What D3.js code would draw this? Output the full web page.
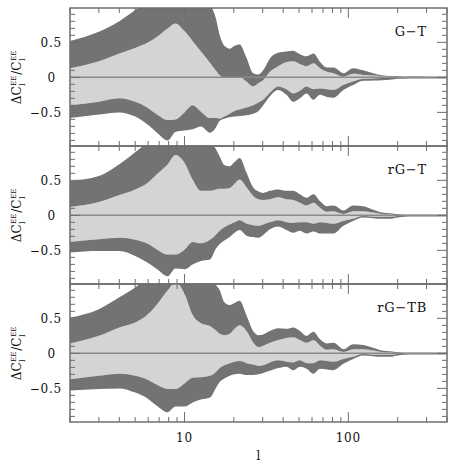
<!DOCTYPE html>
<html>
<head>
<meta charset="utf-8">
<script src="https://cdn.jsdelivr.net/npm/d3@7"></script>
<style>
  html, body { margin: 0; padding: 0; background: #fff; }
  svg { display: block; }
  text { font-family: "DejaVu Serif", "Liberation Serif", serif; fill: #111; }
</style>
</head>
<body>
<svg id="chart" width="457" height="470"></svg>
<script>
// ---- data ----
const ell = [2,3,4,5,6,6.8,7.9,8.8,10,11.2,12.6,14.3,15.5,16.4,17.5,18.9,20.2,21.7,23.9,26.2,28.3,30.2,33.2,37.3,41.9,46.1,50.6,55.6,61.2,67.2,73.9,81.2,93.3,107,123,142,160,180,200,220,250,300,350,400];

const panelLabels = ["G\u2212T", "rG\u2212T", "rG\u2212TB"];

// G-T
const gtUpperOuter = [0.52,0.65,0.80,0.96,1.10, 1.20,1.25,1.25,1.25,1.25, 1.20,1.05,0.85,0.60,0.45, 0.41,0.45,0.47,0.28,0.06, 0.04,0.10,0.27,0.35,0.37, 0.38,0.33,0.30,0.34,0.22, 0.14,0.14,0.06,0.13,0.10, 0.06,0.03,0.02,0.015,0.01, 0.012,0.01,0.01,0.01];
const gtUpperInner = [0.13,0.23,0.34,0.42,0.50, 0.58,0.70,0.77,0.66,0.52, 0.37,0.21,0.10,0.03,0.0, 0.0,0.0,0.0,-0.06,-0.13, -0.08,-0.04,0.08,0.16,0.22, 0.23,0.19,0.16,0.20,0.13, 0.08,0.06,0.01,0.05,0.035, 0.025,0.015,0.01,0.0,-0.003, -0.003,-0.003,-0.003,-0.003];
const gtLowerInner = [-0.40,-0.35,-0.30,-0.35,-0.44, -0.53,-0.61,-0.60,-0.50,-0.40, -0.49,-0.58,-0.58,-0.59,-0.56, -0.52,-0.48,-0.46,-0.43,-0.40, -0.36,-0.32,-0.22,-0.13,-0.17, -0.23,-0.19,-0.13,-0.17,-0.16, -0.17,-0.18,-0.11,-0.06,-0.02, -0.015,-0.01,-0.01,-0.005,-0.006, -0.006,-0.006,-0.006,-0.006];
const gtLowerOuter = [-0.58,-0.53,-0.50,-0.56,-0.68, -0.79,-0.90,-0.78,-0.76,-0.74, -0.70,-0.79,-0.72,-0.62,-0.59, -0.57,-0.56,-0.55,-0.54,-0.52, -0.48,-0.40,-0.27,-0.18,-0.25, -0.35,-0.30,-0.23,-0.32,-0.25, -0.28,-0.29,-0.18,-0.11,-0.05, -0.045,-0.04,-0.035,-0.02,-0.02, -0.018,-0.015,-0.015,-0.015];

// rG-T
const rgtUpperOuter = [0.49,0.56,0.73,0.90,1.05, 1.15,1.20,1.20,1.20,1.10, 0.98,1.05,0.95,0.84,0.72, 0.70,0.76,0.82,0.61,0.40, 0.34,0.32,0.35,0.37,0.35, 0.35,0.30,0.25,0.30,0.20, 0.13,0.14,0.07,0.14,0.13, 0.08,0.04,0.03,0.015,0.01, 0.01,0.01,0.01,0.01];
const rgtUpperInner = [0.12,0.19,0.29,0.37,0.47, 0.59,0.73,0.86,0.75,0.51, 0.35,0.35,0.37,0.38,0.38, 0.39,0.45,0.51,0.40,0.28, 0.23,0.22,0.23,0.26,0.23, 0.22,0.18,0.14,0.18,0.11, 0.05,0.06,0.02,0.06,0.06, 0.04,0.02,0.015,0.0,-0.003, -0.003,-0.003,-0.003,-0.003];
const rgtLowerInner = [-0.38,-0.34,-0.32,-0.35,-0.41, -0.49,-0.56,-0.56,-0.49,-0.38, -0.40,-0.35,-0.28,-0.22,-0.17, -0.13,-0.10,-0.07,-0.12,-0.14, -0.15,-0.13,-0.10,-0.07,-0.10, -0.11,-0.10,-0.10,-0.12,-0.10, -0.11,-0.12,-0.08,-0.05,-0.01, -0.02,-0.02,-0.02,-0.01,-0.006, -0.006,-0.006,-0.006,-0.006];
const rgtLowerOuter = [-0.53,-0.51,-0.51,-0.58,-0.68, -0.77,-0.87,-0.76,-0.77,-0.70, -0.65,-0.63,-0.48,-0.41,-0.36, -0.31,-0.25,-0.21,-0.29,-0.31, -0.32,-0.28,-0.20,-0.16,-0.21, -0.25,-0.22,-0.26,-0.23,-0.26, -0.26,-0.26,-0.15,-0.08,-0.03, -0.04,-0.05,-0.05,-0.03,-0.02, -0.015,-0.015,-0.015,-0.015];

// rG-TB
const rgtbUpperOuter = [0.51,0.63,0.80,0.94,1.08, 1.15,1.20,1.20,1.20,1.20, 1.15,1.05,0.98,0.90,0.73, 0.69,0.72,0.75,0.54,0.32, 0.26,0.27,0.32,0.36,0.35, 0.37,0.32,0.25,0.31,0.20, 0.14,0.15,0.06,0.13,0.12, 0.08,0.04,0.03,0.015,0.01, 0.01,0.01,0.01,0.01];
const rgtbUpperInner = [0.14,0.25,0.37,0.44,0.56, 0.70,0.90,1.02,0.85,0.55, 0.43,0.39,0.33,0.28,0.26, 0.28,0.35,0.40,0.32,0.16, 0.09,0.11,0.15,0.19,0.22, 0.23,0.19,0.15,0.19,0.11, 0.05,0.06,0.02,0.06,0.06, 0.04,0.02,0.015,0.0,-0.003, -0.003,-0.003,-0.003,-0.003];
const rgtbLowerInner = [-0.37,-0.32,-0.29,-0.32,-0.38, -0.45,-0.51,-0.51,-0.43,-0.35, -0.34,-0.32,-0.27,-0.21,-0.17, -0.14,-0.12,-0.11,-0.14,-0.16, -0.18,-0.17,-0.13,-0.10,-0.12, -0.13,-0.10,-0.14,-0.14,-0.10, -0.11,-0.12,-0.08,-0.05,-0.01, -0.02,-0.02,-0.02,-0.01,-0.006, -0.006,-0.006,-0.006,-0.006];
const rgtbLowerOuter = [-0.53,-0.51,-0.50,-0.56,-0.65, -0.75,-0.84,-0.76,-0.76,-0.70, -0.66,-0.63,-0.50,-0.41,-0.36, -0.32,-0.30,-0.29,-0.31,-0.31, -0.30,-0.28,-0.25,-0.21,-0.19, -0.24,-0.19,-0.22,-0.29,-0.22, -0.23,-0.24,-0.15,-0.08,-0.03, -0.04,-0.05,-0.05,-0.03,-0.02, -0.015,-0.015,-0.015,-0.015];

const yTickValues = [-0.5, 0, 0.5];
const yTickLabels = ["\u22120.5", "0", "0.5"];
const xTickValues = [10, 100];
const xTickLabels = ["10", "100"];
const xLabel = "l";

const panels = [
  { label: panelLabels[0], uo: gtUpperOuter, ui: gtUpperInner, li: gtLowerInner, lo: gtLowerOuter },
  { label: panelLabels[1], uo: rgtUpperOuter, ui: rgtUpperInner, li: rgtLowerInner, lo: rgtLowerOuter },
  { label: panelLabels[2], uo: rgtbUpperOuter, ui: rgtbUpperInner, li: rgtbLowerInner, lo: rgtbLowerOuter }
];

// ---- layout ----
const plotLeft = 70, plotRight = 447, plotTop = 8, panelH = 138;
const darkFill = "#737373", lightFill = "#d4d4d4", axisCol = "#6e6e6e";

const svg = d3.select("#chart");
const x = d3.scaleLog().domain([2, 400]).range([plotLeft, plotRight]);
const minorX = [];
[1, 10, 100].forEach(dec => { for (let k = 1; k <= 9; k++) { const v = dec * k; if (v >= 2 && v <= 400) minorX.push(v); } });
const yMinor = d3.range(-9, 10).map(d => d / 10);

panels.forEach((p, i) => {
  const y0 = plotTop + i * panelH;
  const y = d3.scaleLinear().domain([-0.98, 0.99]).range([y0 + panelH, y0]);
  const g = svg.append("g");
  const clipId = "clip" + i;
  svg.append("clipPath").attr("id", clipId)
    .append("rect").attr("x", plotLeft).attr("y", y0).attr("width", plotRight - plotLeft).attr("height", panelH);
  const body = g.append("g").attr("clip-path", `url(#${clipId})`);
  const idx = d3.range(ell.length);
  const band = (lo, hi) => d3.area()
    .x(j => x(ell[j])).y0(j => y(lo[j])).y1(j => y(hi[j]))
    .curve(d3.curveMonotoneX)(idx);
  body.append("path").attr("d", band(p.li, p.ui)).attr("fill", lightFill);
  body.append("path").attr("d", band(p.ui, p.uo)).attr("fill", darkFill);
  body.append("path").attr("d", band(p.lo, p.li)).attr("fill", darkFill);
  body.append("line").attr("x1", plotLeft).attr("x2", plotRight).attr("y1", y(0)).attr("y2", y(0))
    .attr("stroke", "#8a8a8a").attr("stroke-width", 1.5);

  // ticks
  const tk = g.append("g").attr("stroke", axisCol).attr("stroke-width", 1);
  minorX.forEach(v => {
    const len = (v === 10 || v === 100) ? 10 : 5;
    const xx = x(v);
    tk.append("line").attr("x1", xx).attr("x2", xx).attr("y1", y0 + panelH).attr("y2", y0 + panelH - len);
    tk.append("line").attr("x1", xx).attr("x2", xx).attr("y1", y0).attr("y2", y0 + len);
  });
  yMinor.forEach(v => {
    const major = Math.abs(v * 2 - Math.round(v * 2)) < 1e-9;
    const len = major ? 10 : 5;
    const yy = y(v);
    tk.append("line").attr("x1", plotLeft).attr("x2", plotLeft + len).attr("y1", yy).attr("y2", yy);
    tk.append("line").attr("x1", plotRight).attr("x2", plotRight - len).attr("y1", yy).attr("y2", yy);
  });
  g.append("rect").attr("x", plotLeft).attr("y", y0).attr("width", plotRight - plotLeft).attr("height", panelH)
    .attr("fill", "none").attr("stroke", axisCol).attr("stroke-width", 1.5);

  // y tick labels
  yTickValues.forEach((v, k) => {
    g.append("text").attr("x", v === 0 ? 56 : 62).attr("y", y(v) + 4.5)
      .attr("text-anchor", "end").attr("font-size", 12).attr("letter-spacing", 0.8)
      .text(yTickLabels[k]);
  });

  // panel label
  g.append("text").attr("x", 427).attr("y", y0 + 28).attr("text-anchor", "end")
    .attr("font-size", 13).attr("letter-spacing", 0.8).text(p.label);

  // y axis label
  const lg = g.append("g").attr("transform", `translate(${17},${y0 + panelH / 2}) rotate(-90)`);
  let cx = 0;
  const pieces = [["\u0394C", null], [null, ["EE", "l"]], ["/C", null], [null, ["EE", "l"]]];
  pieces.forEach(([txt, stack]) => {
    if (txt) {
      const t = lg.append("text").attr("x", cx).attr("y", 4).attr("font-size", 12).text(txt);
      cx += t.node().getComputedTextLength();
    } else {
      const a = lg.append("text").attr("x", cx + 0.5).attr("y", -1.5).attr("font-size", 7).text(stack[0]);
      const b = lg.append("text").attr("x", cx + 0.5).attr("y", 7.5).attr("font-size", 8).text(stack[1]);
      cx += Math.max(a.node().getComputedTextLength(), b.node().getComputedTextLength()) + 1.5;
    }
  });
  lg.selectAll("text").attr("transform", `translate(${-cx / 2},0)`);
});

// x tick labels and axis title
const yb = plotTop + 3 * panelH;
xTickValues.forEach((v, k) => {
  svg.append("text").attr("x", x(v)).attr("y", yb + 20).attr("text-anchor", "middle")
    .attr("font-size", 12).attr("letter-spacing", 0.8).text(xTickLabels[k]);
});
svg.append("text").attr("x", (plotLeft + plotRight) / 2).attr("y", yb + 38).attr("text-anchor", "middle")
  .attr("font-size", 12).text(xLabel);
</script>
</body>
</html>
